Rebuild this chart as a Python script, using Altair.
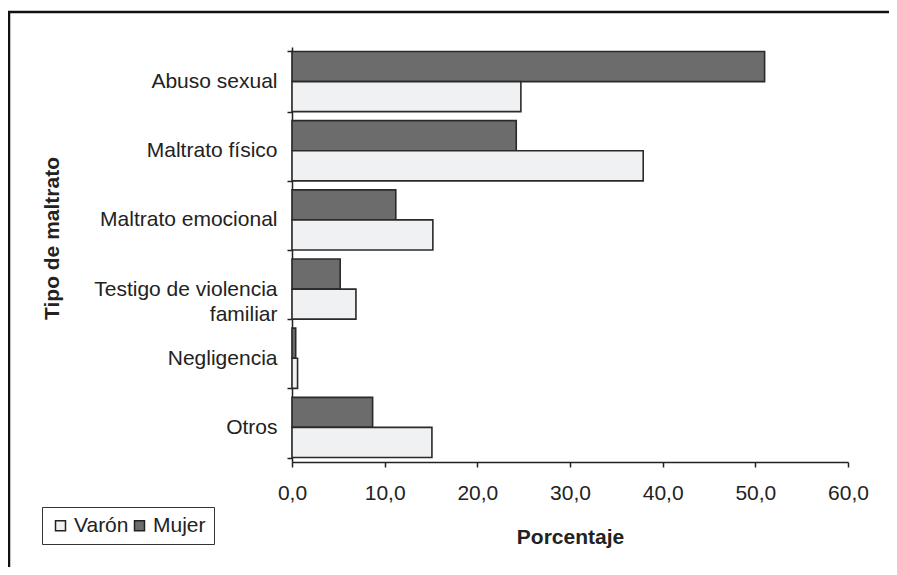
import altair as alt
import pandas as pd

categories = ["Abuso sexual", "Maltrato físico", "Maltrato emocional",
              "Testigo de violencia familiar", "Negligencia", "Otros"]
mujer = [51.0, 24.2, 11.2, 5.2, 0.4, 8.7]
varon = [24.7, 37.9, 15.2, 6.9, 0.6, 15.1]
series = ["Varón", "Mujer"]
x_ticks = [0, 10, 20, 30, 40, 50, 60]

rows = []
for c, m, v in zip(categories, mujer, varon):
    rows.append({"tipo": c, "sexo": "Mujer", "pct": m})
    rows.append({"tipo": c, "sexo": "Varón", "pct": v})
df = pd.DataFrame(rows)

FONT = "Liberation Sans"
FS = 21

bars = alt.Chart(df).mark_bar(stroke="#2a2a2a", strokeWidth=1.6).encode(
    y=alt.Y("tipo:N", sort=categories,
            scale=alt.Scale(paddingInner=0.13, paddingOuter=0.065),
            axis=alt.Axis(title="Tipo de maltrato", tickBand="extent",
                          labelExpr="datum.label == 'Testigo de violencia familiar' ? ['Testigo de violencia', 'familiar'] : datum.label",
                          labelLineHeight=25, labelPadding=10, labelLimit=400,
                          titlePadding=31, titleY=191)),
    yOffset=alt.YOffset("sexo:N", sort=["Mujer", "Varón"]),
    x=alt.X("pct:Q", scale=alt.Scale(domain=[0, 60], nice=False),
            axis=alt.Axis(title="Porcentaje", values=x_ticks,
                          labelExpr="replace(format(datum.value, '.1f'), '.', ',')",
                          labelFlush=False,
                          labelPadding=15, titlePadding=23, grid=False)),
    color=alt.Color("sexo:N", sort=series,
                    scale=alt.Scale(domain=series, range=["#f0f1f2", "#6c6c6c"]),
                    legend=alt.Legend(title=None, orient="none", direction="horizontal",
                                      legendX=-250, legendY=460,
                                      strokeColor="#333", padding=8,
                                      symbolType="square", symbolSize=100,
                                      symbolStrokeColor="#222", symbolStrokeWidth=1.5,
                                      labelFontSize=FS, labelFont=FONT,
                                      labelColor="#222", columnPadding=0,
                                      labelOffset=3)),
)

border = alt.Chart(pd.DataFrame({"k": [0]})).mark_rect(
    fill=None, stroke="#111", strokeWidth=2.5, clip=False
).encode(
    x=alt.value(-283), x2=alt.value(640),
    y=alt.value(-35), y2=alt.value(560),
)

chart = alt.layer(border, bars).properties(
    width=556, height=415,
    background="white",
    autosize=alt.AutoSizeParams(type="none"),
    padding={"left": 284, "top": 39, "right": 41, "bottom": 105},
).configure_view(stroke=None).configure_axis(
    domainColor="#222", domainWidth=1.5, tickColor="#222", tickWidth=1.5, tickSize=5,
    labelFont=FONT, labelFontSize=FS, labelColor="#222",
    titleFont=FONT, titleFontSize=FS, titleColor="#222", titleFontWeight="bold",
)

chart.save("out.html", embed_options={"renderer": "svg", "actions": False})
